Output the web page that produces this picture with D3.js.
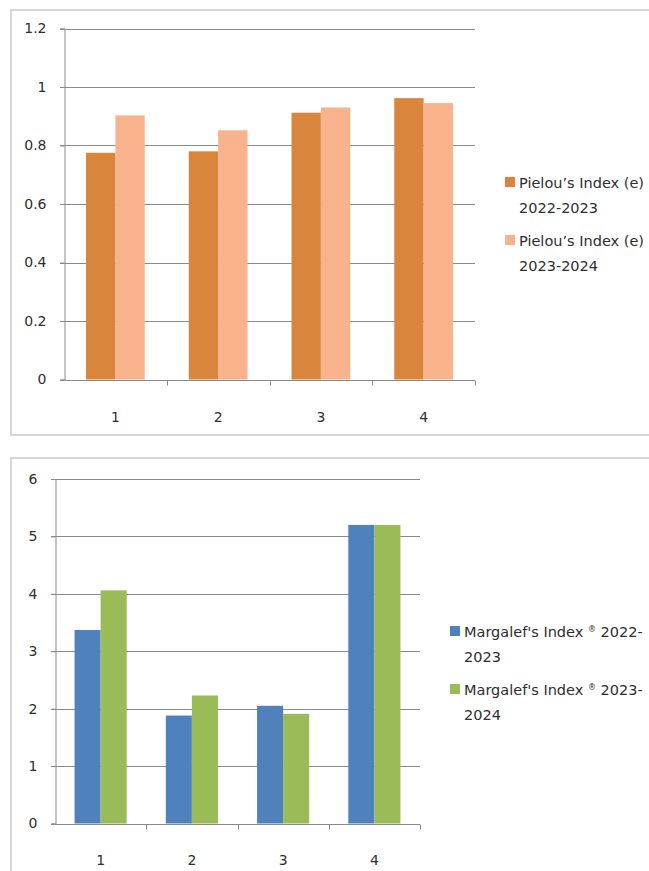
<!DOCTYPE html>
<html>
<head>
<meta charset="utf-8">
<script src="https://cdn.jsdelivr.net/npm/d3@7"></script>
<style>
  body { margin: 0; background: #fff; }
  svg { display: block; }
  text { font-family: "DejaVu Sans", "Open Sans", sans-serif; fill: #2e2e2e; }
</style>
</head>
<body>
<svg id="chart" width="649" height="871"></svg>
<script>
// values
var categories = ["1", "2", "3", "4"];

var pielou2223 = [0.775, 0.78, 0.912, 0.962];
var pielou2324 = [0.903, 0.852, 0.93, 0.945];
var pielouTicks = [0, 0.2, 0.4, 0.6, 0.8, 1, 1.2];
var pielouLegend = [["Pielou\u2019s Index (e)", "2022-2023"], ["Pielou\u2019s Index (e)", "2023-2024"]];
var pielouColors = ["#d9853b", "#f8b38c"];

var margalef2223 = [3.37, 1.88, 2.05, 5.2];
var margalef2324 = [4.06, 2.23, 1.91, 5.2];
var margalefTicks = [0, 1, 2, 3, 4, 5, 6];
var margalefLegend = [["Margalef's Index \u00ae 2022-", "2023"], ["Margalef's Index \u00ae 2023-", "2024"]];
var margalefColors = ["#4f81bd", "#9bbb59"];

var svg = d3.select("#chart");

function drawChart(opt) {
  var g = svg.append("g");

  // chart frame
  g.append("rect")
    .attr("x", opt.frame[0]).attr("y", opt.frame[1])
    .attr("width", opt.frame[2]).attr("height", opt.frame[3])
    .attr("fill", "#fff")
    .attr("stroke", "#d6d6d6")
    .attr("stroke-width", 2);

  var y = d3.scaleLinear()
    .domain([0, d3.max(opt.ticks)])
    .range([opt.bottom, opt.top]);

  var x0 = d3.scaleBand()
    .domain(categories)
    .range([opt.left, opt.right]);

  var bw = x0.bandwidth();
  // excel style gap width 150%
  var x1 = d3.scaleBand()
    .domain([0, 1])
    .range([bw * 0.75 / 3.5, bw * 2.75 / 3.5]);

  // gridlines
  g.append("g")
    .selectAll("line")
    .data(opt.ticks.filter(function(d) { return d > 0; }))
    .enter().append("line")
    .attr("x1", opt.left - 4)
    .attr("x2", opt.right)
    .attr("y1", function(d) { return Math.round(y(d)) + 0.5; })
    .attr("y2", function(d) { return Math.round(y(d)) + 0.5; })
    .attr("stroke", "#8a8a8a")
    .attr("stroke-width", 1);

  var series = [opt.a, opt.b];

  var groups = g.append("g")
    .selectAll("g")
    .data(categories)
    .enter().append("g")
    .attr("transform", function(d) { return "translate(" + x0(d) + ",0)"; });

  groups.selectAll("rect")
    .data(function(d, i) { return series.map(function(s, k) { return { k: k, v: s[i] }; }); })
    .enter().append("rect")
    .attr("x", function(d) { return x1(d.k); })
    .attr("width", x1.bandwidth())
    .attr("y", function(d) { return y(d.v); })
    .attr("height", function(d) { return opt.bottom - y(d.v); })
    .attr("fill", function(d) { return opt.colors[d.k]; });

  // y axis
  var yAxis = d3.axisLeft(y)
    .tickValues(opt.ticks)
    .tickSize(4)
    .tickPadding(opt.yPad)
    .tickFormat(function(d) { return d; });

  var ya = g.append("g")
    .attr("transform", "translate(" + (opt.left + 0.5) + ",0)")
    .call(yAxis);
  ya.select(".domain").attr("stroke", "#8a8a8a");
  ya.selectAll(".tick line").attr("stroke", "#8a8a8a");
  ya.selectAll("text")
    .style("font-family", "\"DejaVu Sans\", sans-serif")
    .style("font-size", "14px")
    .attr("fill", "#2e2e2e");

  // x axis
  var xa = g.append("g")
    .attr("transform", "translate(0," + (Math.round(opt.bottom) + 0.5) + ")");
  xa.append("line")
    .attr("x1", opt.left - 4).attr("x2", opt.right)
    .attr("stroke", "#8a8a8a");
  xa.selectAll(".xt")
    .data(categories)
    .enter().append("line")
    .attr("class", "xt")
    .attr("x1", function(d) { return Math.round(x0(d) + bw) + 0.5; })
    .attr("x2", function(d) { return Math.round(x0(d) + bw) + 0.5; })
    .attr("y1", 0).attr("y2", 5)
    .attr("stroke", "#8a8a8a");
  xa.selectAll(".xl")
    .data(categories)
    .enter().append("text")
    .attr("class", "xl")
    .attr("x", function(d) { return x0(d) + bw / 2; })
    .attr("y", opt.xLabelY)
    .attr("text-anchor", "middle")
    .style("font-size", "14px")
    .text(function(d) { return d; });

  // legend
  var lg = g.append("g")
    .selectAll("g")
    .data(opt.legend)
    .enter().append("g")
    .attr("transform", function(d, i) {
      return "translate(" + opt.legendX + "," + (opt.legendY + i * 58) + ")";
    });

  lg.append("rect")
    .attr("x", 0).attr("y", -11)
    .attr("width", 10).attr("height", 10)
    .attr("fill", function(d, i) { return opt.colors[i]; });

  var lines = lg.append("text")
    .style("font-size", "14.5px")
    .selectAll("text")
    .data(function(d) { return d; })
    .enter().append("tspan")
    .attr("x", 14)
    .attr("y", function(d, i) { return i * 25; });

  // the ® sign sits small and raised, as in the picture
  lines.each(function(d) {
    var t = d3.select(this);
    var parts = d.split("\u00ae");
    if (parts.length === 1) { t.text(d); return; }
    t.append("tspan").text(parts[0]);
    t.append("tspan").attr("dy", -5).style("font-size", "8px").text("\u00ae");
    t.append("tspan").attr("dy", 5).text(parts[1]);
  });
}

drawChart({
  frame: [11, 10, 660, 425],
  top: 28.5, bottom: 379.5, left: 64, right: 475,
  ticks: pielouTicks, a: pielou2223, b: pielou2324,
  colors: pielouColors, legend: pielouLegend,
  yPad: 14, xLabelY: 41,
  legendX: 505, legendY: 188
});

drawChart({
  frame: [11, 458, 660, 430],
  top: 479, bottom: 823.5, left: 55, right: 420,
  ticks: margalefTicks, a: margalef2223, b: margalef2324,
  colors: margalefColors, legend: margalefLegend,
  yPad: 14, xLabelY: 40,
  legendX: 450, legendY: 637
});
</script>
</body>
</html>
